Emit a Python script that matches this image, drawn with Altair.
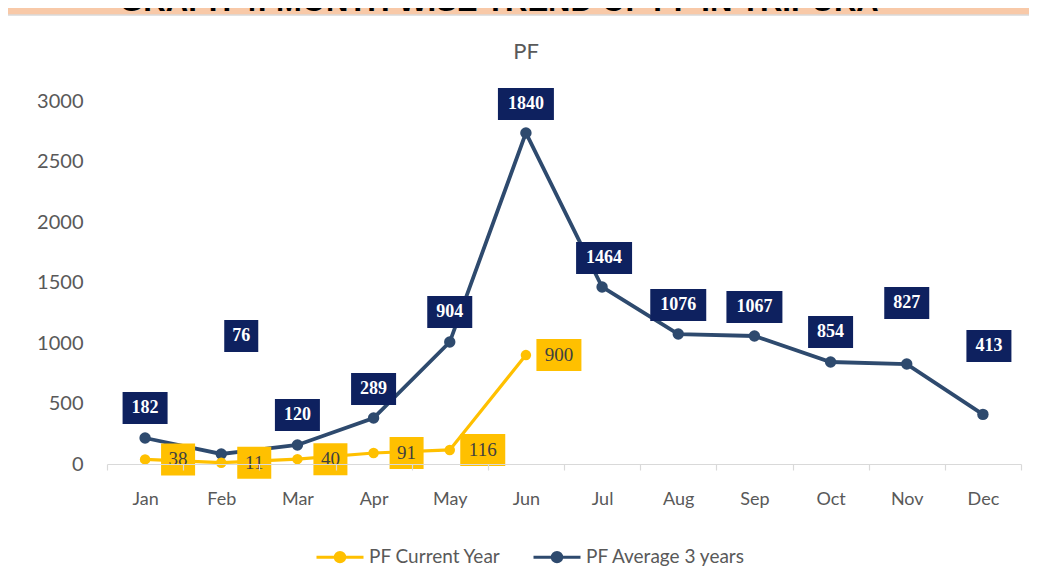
import altair as alt
import pandas as pd

months = ["Jan", "Feb", "Mar", "Apr", "May", "Jun", "Jul", "Aug", "Sep", "Oct", "Nov", "Dec"]

# PF Average 3 years: plotted positions and printed data labels
avg3_values = [215, 83, 157, 380, 1008, 2736, 1463, 1074, 1058, 843, 826, 410]
avg3_labels = ["182", "76", "120", "289", "904", "1840", "1464", "1076", "1067", "854", "827", "413"]
avg3_label_at = [463, 1058, 405, 620, 1256, 2975, 1702, 1314, 1298, 1091, 1331, 975]
avg3_label_shift = [0, 20, 0, 0, 0, 0, 2, 0, 0, 0, 0, 6]

# PF Current Year (Jan-Jun)
cur_months = ["Jan", "Feb", "Mar", "Apr", "May", "Jun"]
cur_values = [38, 11, 40, 91, 116, 900]

series_names = ["PF Current Year", "PF Average 3 years"]
y_ticks = [0, 500, 1000, 1500, 2000, 2500, 3000]

GOLD = "#FFC000"
NAVY_LINE = "#2E4A6E"
NAVY_BOX = "#0E215F"
GREY = "#595959"
PEACH = "#F8C9A8"

PLOT_W = 914
HALF_BAND = PLOT_W / len(months) / 2
CUR_LABEL_GAP = 33


def box_path(text):
    w = 12 + 11 * len(text)
    a = w / 60.0
    b = 16 / 30.0
    return f"M{-a:.3f},{-b:.3f}L{a:.3f},{-b:.3f}L{a:.3f},{b:.3f}L{-a:.3f},{b:.3f}Z"


avg_df = pd.DataFrame({
    "month": months,
    "value": avg3_values,
    "series": series_names[1],
    "label": avg3_labels,
    "label_at": avg3_label_at,
})
avg_df["off"] = [HALF_BAND + s for s in avg3_label_shift]
avg_df["box"] = avg_df["label"].map(box_path)

cur_df = pd.DataFrame({
    "month": cur_months,
    "value": cur_values,
    "series": series_names[0],
})
cur_df["label"] = cur_df["value"].astype(str)
cur_df["off"] = HALF_BAND + CUR_LABEL_GAP
cur_df["box"] = cur_df["label"].map(box_path)

x_enc = alt.X(
    "month:N",
    sort=months,
    scale=alt.Scale(domain=months, paddingInner=0, paddingOuter=0),
    axis=alt.Axis(
        title=None, labelAngle=0, grid=False, zindex=1,
        domainColor="#D9D9D9", domainWidth=1.2,
        tickColor="#D9D9D9", tickSize=6, tickWidth=1.2, tickBand="extent",
        labelFont="Lato", labelFontSize=18, labelColor=GREY,
        labelBaseline="middle", labelPadding=29,
    ),
)
y_enc = alt.Y(
    "value:Q",
    scale=alt.Scale(domain=[0, 3000], nice=False),
    axis=alt.Axis(
        title=None, values=y_ticks, format="d", grid=False, domain=False, ticks=False, zindex=1,
        labelFont="Lato", labelFontSize=20, labelColor=GREY, labelPadding=24,
    ),
)
color_enc = alt.Color(
    "series:N",
    scale=alt.Scale(domain=series_names, range=[GOLD, NAVY_LINE]),
    legend=alt.Legend(
        title=None, orient="none", direction="horizontal",
        legendX=208, legendY=431, padding=0,
        symbolType="M-1,0L1,0M-0.2,0A0.2,0.2,0,1,1,0.2,0A0.2,0.2,0,1,1,-0.2,0"
                   "M-0.09,0A0.09,0.09,0,1,1,0.09,0A0.09,0.09,0,1,1,-0.09,0",
        symbolSize=2209, symbolStrokeWidth=3,
        labelFont="Lato", labelFontSize=19, labelColor=GREY, labelLimit=300,
        labelOffset=4, columnPadding=26,
    ),
)

one = pd.DataFrame({"a": [0]})

# white chart panel on the peach page background
panel = alt.Chart(one).mark_rect(fill="white", stroke="#D9D9D9", strokeWidth=1.5).encode(
    x=alt.value(-100), x2=alt.value(940), y=alt.value(-86), y2=alt.value(490)
)

# page heading, cut off at the top edge as in the reference
big_title = alt.Chart(one).mark_text(
    text="GRAPH 4: MONTH WISE TREND OF PF IN TRIPURA",
    font="Liberation Sans", fontWeight="bold", fontSize=31, color="black",
    align="center", baseline="alphabetic",
).encode(x=alt.value(392), y=alt.value(-90))

pf_title = alt.Chart(one).mark_text(
    text="PF", font="Lato", fontSize=22, color=GREY, align="center", baseline="middle",
).encode(x=alt.value(419), y=alt.value(-49))

xm = alt.X("month:N", sort=months)

avg_line = alt.Chart(avg_df).mark_line(strokeWidth=3.8).encode(x=x_enc, y=y_enc, color=color_enc)
avg_pts = alt.Chart(avg_df).mark_point(filled=True, size=130, opacity=1, color=NAVY_LINE).encode(
    x=xm, y="value:Q"
)
cur_line = alt.Chart(cur_df).mark_line(strokeWidth=3.2).encode(
    x=xm, y="value:Q", color=alt.Color("series:N")
)
cur_pts = alt.Chart(cur_df).mark_point(filled=True, size=110, opacity=1, color=GOLD).encode(
    x=xm, y="value:Q"
)

avg_boxes = alt.Chart(avg_df).mark_point(filled=True, size=3600, opacity=1, color=NAVY_BOX, strokeWidth=0).encode(
    x=xm, y=alt.Y("label_at:Q"),
    xOffset=alt.XOffset("off:Q", scale=None),
    shape=alt.Shape("box:N", scale=None),
)
avg_text = alt.Chart(avg_df).mark_text(
    font="Liberation Serif", fontWeight="bold", fontSize=18, color="white",
    align="center", baseline="middle",
).encode(
    x=xm, y=alt.Y("label_at:Q"),
    xOffset=alt.XOffset("off:Q", scale=None),
    text="label:N",
)

cur_boxes = alt.Chart(cur_df).mark_point(filled=True, size=3600, opacity=1, color=GOLD, strokeWidth=0).encode(
    x=xm, y="value:Q",
    xOffset=alt.XOffset("off:Q", scale=None),
    shape=alt.Shape("box:N", scale=None),
)
cur_text = alt.Chart(cur_df).mark_text(
    font="Liberation Serif", fontSize=19, color="#404040",
    align="center", baseline="middle",
).encode(
    x=xm, y="value:Q",
    xOffset=alt.XOffset("off:Q", scale=None),
    text="label:N",
)

chart = alt.layer(
    panel, big_title, pf_title,
    avg_line, cur_line, avg_pts, cur_pts,
    avg_boxes, avg_text, cur_boxes, cur_text,
).properties(
    width=PLOT_W, height=363,
    padding={"left": 99, "top": 93, "right": 8, "bottom": 104},
    autosize=alt.AutoSizeParams(type="none"),
).configure(background=PEACH).configure_view(stroke=None)

chart.save("out.html", embed_options={"renderer": "svg", "actions": False})
